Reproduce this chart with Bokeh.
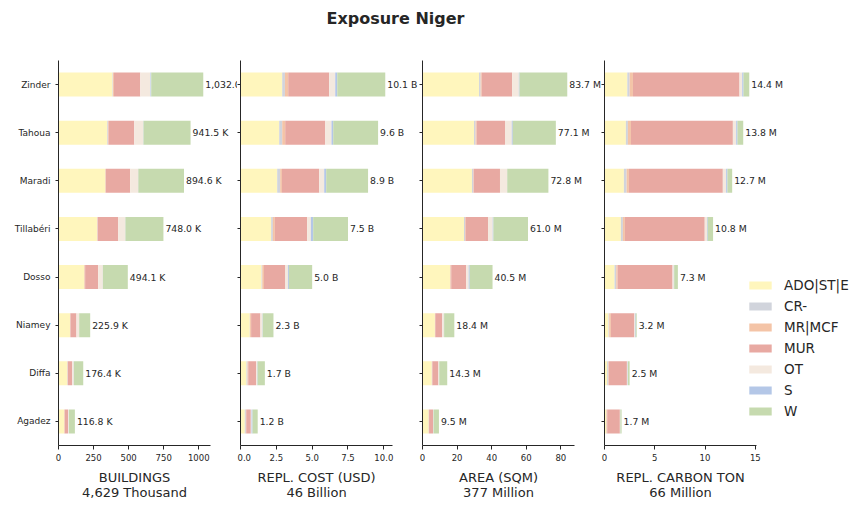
from bokeh.plotting import figure
from bokeh.models import (ColumnDataSource, FactorRange, Range1d, FixedTicker, LabelSet,
                          Label, CustomJSTickFormatter)
from bokeh.layouts import column, row
from bokeh.embed import file_html
from bokeh.resources import INLINE
from bokeh.core.properties import value

# ---------------- data ----------------
regions = ["Zinder", "Tahoua", "Maradi", "Tillabéri", "Dosso", "Niamey", "Diffa", "Agadez"]
categories = ["ADO|ST|E", "CR-", "MR|MCF", "MUR", "OT", "S", "W"]
colors = ["#fff6bd", "#d1d4dc", "#f4c4a7", "#e8a9a2", "#f4e9df", "#b4c7e7", "#c6daaf"]

# Buildings (thousand)
bld_ado = [385, 347, 333, 276, 183, 83, 62, 40]
bld_cr = [3, 5, 1, 2, 1, 1, 3, 1]
bld_mr = [7, 5, 4, 1, 6, 1, 2, 4]
bld_mur = [188, 183, 173, 147, 93, 43, 30, 24]
bld_ot = [73, 64, 57, 50, 33, 19, 12, 5]
bld_s = [5, 2, 1, 1, 0.5, 0.5, 1, 0.5]
bld_w = [371.0, 335.5, 325.6, 271.0, 177.6, 78.4, 66.4, 42.3]

# Replacement cost (billion USD)
cost_ado = [2.91, 2.70, 2.56, 2.14, 1.47, 0.65, 0.42, 0.30]
cost_cr = [0.19, 0.21, 0.21, 0.12, 0.05, 0.02, 0.07, 0.07]
cost_mr = [0.23, 0.21, 0.12, 0.14, 0.12, 0.07, 0.05, 0.03]
cost_mur = [2.86, 2.79, 2.60, 2.25, 1.49, 0.65, 0.55, 0.32]
cost_ot = [0.42, 0.44, 0.35, 0.26, 0.18, 0.14, 0.07, 0.05]
cost_s = [0.14, 0.12, 0.14, 0.16, 0.07, 0.02, 0.03, 0.07]
cost_w = [3.35, 3.13, 2.92, 2.43, 1.62, 0.75, 0.51, 0.36]

# Area (million sqm)
area_ado = [32.7, 29.8, 28.6, 24.0, 15.9, 7.2, 5.4, 3.5]
area_cr = [0.9, 0.9, 0.8, 0.6, 0.2, 0.1, 0.2, 0.1]
area_mr = [0.6, 0.6, 0.2, 0.3, 0.5, 0.1, 0.1, 0.2]
area_mur = [17.6, 16.4, 15.2, 13.0, 8.7, 4.0, 3.5, 2.3]
area_ot = [3.9, 3.9, 4.1, 2.7, 1.4, 1.0, 0.4, 0.2]
area_s = [0.4, 0.6, 0.1, 0.4, 0.6, 0.1, 0.1, 0.1]
area_w = [27.6, 24.9, 23.8, 20.0, 13.2, 5.9, 4.6, 3.1]

# Replacement carbon (million ton)
carb_ado = [2.27, 2.13, 1.93, 1.63, 1.00, 0.40, 0.27, 0.17]
carb_cr = [0.23, 0.20, 0.27, 0.20, 0.17, 0.07, 0.10, 0.03]
carb_mr = [0.33, 0.30, 0.23, 0.20, 0.13, 0.16, 0.06, 0.07]
carb_mur = [10.60, 10.14, 9.34, 7.94, 5.47, 2.34, 1.80, 1.26]
carb_ot = [0.27, 0.33, 0.33, 0.23, 0.13, 0.06, 0.07, 0.03]
carb_s = [0.13, 0.13, 0.13, 0.07, 0.03, 0.07, 0.03, 0.02]
carb_w = [0.57, 0.57, 0.47, 0.53, 0.37, 0.10, 0.17, 0.12]

axis_titles = ["BUILDINGS", "REPL. COST (USD)", "AREA (SQM)", "REPL. CARBON TON"]
axis_totals = ["4,629 Thousand", "46 Billion", "377 Million", "66 Million"]
unit_suffix = ["K", "B", "M", "M"]
x_ticks = [[0, 250, 500, 750, 1000], [0, 2.5, 5, 7.5, 10], [0, 20, 40, 60, 80], [0, 5, 10, 15]]
tick_labels = [["0", "250", "500", "750", "1000"], ["0.0", "2.5", "5.0", "7.5", "10.0"],
               ["0", "20", "40", "60", "80"], ["0", "5", "10", "15"]]

panels = [
    [bld_ado, bld_cr, bld_mr, bld_mur, bld_ot, bld_s, bld_w],
    [cost_ado, cost_cr, cost_mr, cost_mur, cost_ot, cost_s, cost_w],
    [area_ado, area_cr, area_mr, area_mur, area_ot, area_s, area_w],
    [carb_ado, carb_cr, carb_mr, carb_mur, carb_ot, carb_s, carb_w],
]

FONT = "DejaVu Sans"
TXT = "#262626"
W_TOTAL = 867

AXIS_W = 152                      # visible axis length in px
frame_ws = [179, 179, 179, 263]   # drawing area (extends past the axis so texts are not cut)
left_bs = [58, 3, 3, 3]
TOP_B, FRAME_H, BOTTOM_B = 20, 385, 24

figs = []
axis_centres = []
x0 = 0
for i, series in enumerate(panels):
    data = {"region": regions}
    for c, s in zip(categories, series):
        data[c] = s
    totals = [sum(vals) for vals in zip(*series)]
    data["total"] = totals
    data["label"] = [f"{t:,.1f} {unit_suffix[i]}" for t in totals]
    src = ColumnDataSource(data)
    xmax = max(totals) * 1.05
    fw = frame_ws[i]
    axis_centres.append(x0 + left_bs[i] + AXIS_W / 2)
    x0 += left_bs[i] + fw
    p = figure(y_range=FactorRange(factors=list(reversed(regions))),
               x_range=Range1d(0, xmax * fw / AXIS_W),
               frame_width=fw, frame_height=FRAME_H,
               min_border_left=left_bs[i], min_border_right=0,
               min_border_top=TOP_B, min_border_bottom=BOTTOM_B,
               toolbar_location=None, output_backend="svg",
               outline_line_color=None, background_fill_color=None,
               border_fill_color=None)
    kw = {}
    if i == 3:
        kw["legend_label"] = categories
    p.hbar_stack(categories, y="region", height=0.5, source=src,
                 color=colors, line_color=None, **kw)
    labels = LabelSet(x="total", y="region", text="label", source=src,
                      x_offset=2, text_baseline="middle", text_align="left",
                      text_font=value(FONT), text_font_size=value("9.3px"),
                      text_color=TXT)
    p.add_layout(labels)

    p.xgrid.grid_line_color = None
    p.ygrid.grid_line_color = None
    for ax in (p.xaxis[0], p.yaxis[0]):
        ax.axis_line_color = TXT
        ax.major_tick_line_color = TXT
        ax.major_tick_in = 0
        ax.minor_tick_line_color = None
        ax.major_label_text_font = FONT
        ax.major_label_text_color = TXT
    p.xaxis.major_tick_out = 4
    p.yaxis.major_tick_out = 3
    p.xaxis.bounds = (0, xmax)
    p.xaxis.ticker = FixedTicker(ticks=x_ticks[i])
    p.xaxis.major_label_overrides = {t: l for t, l in zip(x_ticks[i], tick_labels[i])}
    p.xaxis.major_label_text_font_size = "8.5px"
    p.xaxis.major_label_standoff = 4
    if i == 0:
        p.yaxis.major_label_text_font_size = "9px"
        p.yaxis.major_label_standoff = 5
    else:
        p.yaxis.formatter = CustomJSTickFormatter(code="return ''")
        p.yaxis.major_label_text_font_size = "9px"
        p.yaxis.major_label_standoff = 0

    if i == 3:
        leg = p.legend[0]
        leg.location = (142, 26)
        leg.background_fill_alpha = 0
        leg.border_line_color = None
        leg.padding = 0
        leg.margin = 0
        leg.spacing = 5
        leg.glyph_width = 28
        leg.glyph_height = 10
        leg.label_height = 16
        leg.label_standoff = 10
        leg.label_text_font = FONT
        leg.label_text_font_size = "13.5px"
        leg.label_text_color = TXT
    figs.append(p)


def blank_fig(h):
    f = figure(width=W_TOTAL, height=h, x_range=(0, 1), y_range=(0, 1),
               toolbar_location=None, output_backend="svg",
               x_axis_location=None, y_axis_location=None,
               outline_line_color=None, min_border=0,
               background_fill_color=None, border_fill_color=None)
    f.xgrid.grid_line_color = None
    f.ygrid.grid_line_color = None
    return f


TITLE_H = 40
title_fig = blank_fig(TITLE_H)
title_fig.add_layout(Label(x=395, y=22, x_units="screen", y_units="screen",
                           text="Exposure Niger", text_align="center",
                           text_baseline="middle", text_font=FONT,
                           text_font_size="16px", text_font_style="bold",
                           text_color=TXT))

AX_TITLE_H = 510 - TITLE_H - (TOP_B + FRAME_H + BOTTOM_B)
axt_fig = blank_fig(AX_TITLE_H)
for cx, t1, t2 in zip(axis_centres, axis_titles, axis_totals):
    axt_fig.add_layout(Label(x=cx, y=AX_TITLE_H - 8, x_units="screen", y_units="screen",
                             text=t1, text_align="center", text_baseline="middle",
                             text_font=FONT, text_font_size="13px", text_color=TXT))
    axt_fig.add_layout(Label(x=cx, y=AX_TITLE_H - 23, x_units="screen", y_units="screen",
                             text=t2, text_align="center", text_baseline="middle",
                             text_font=FONT, text_font_size="13px", text_color=TXT))

layout = column(title_fig, row(*figs, spacing=0), axt_fig, spacing=0)
open("out.html", "w").write(file_html(layout, INLINE))
